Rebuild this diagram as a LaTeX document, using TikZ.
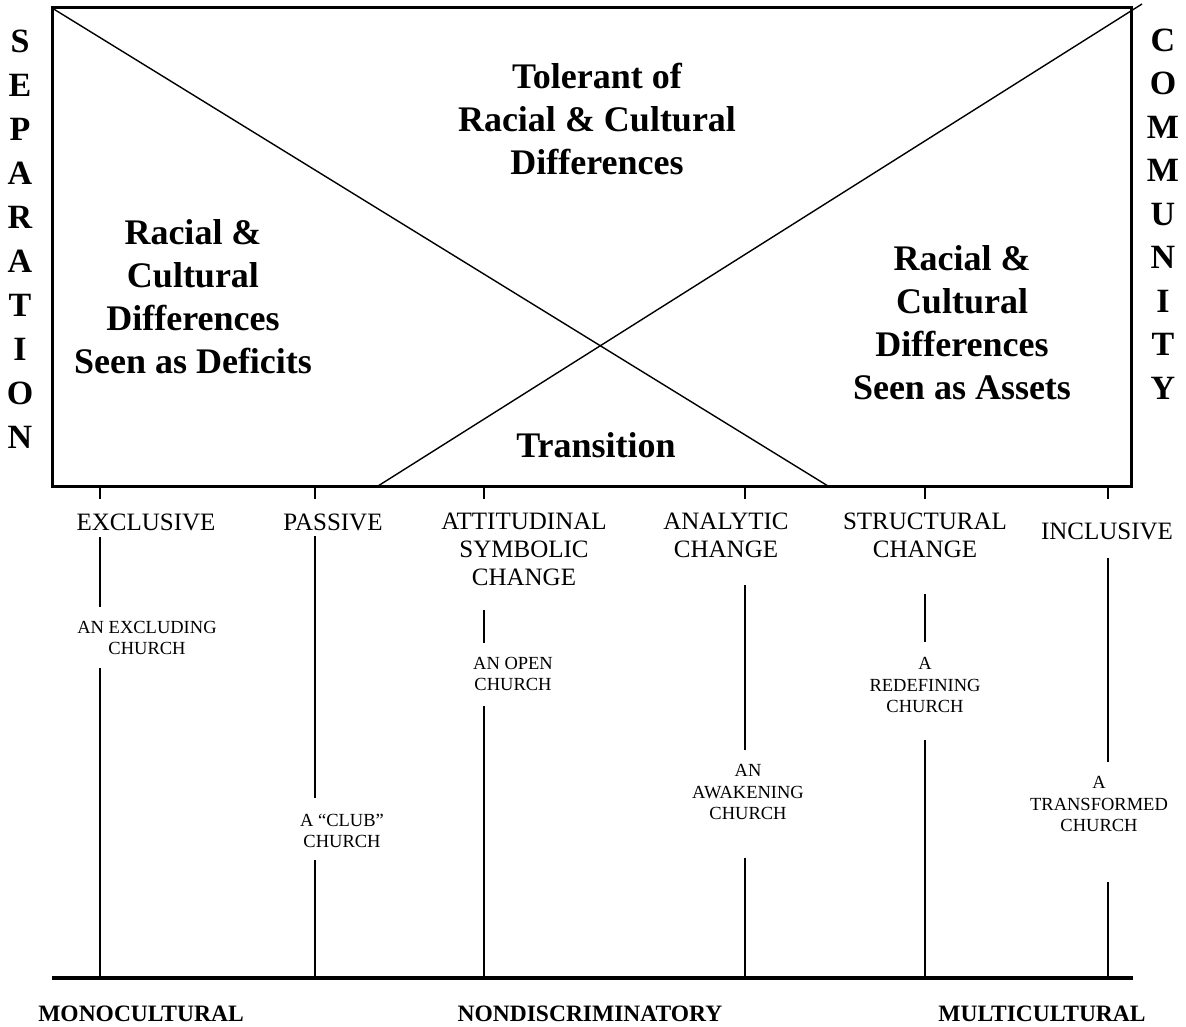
\documentclass[tikz,border=0pt]{standalone}
\usepackage{fontspec}
\setmainfont{Liberation Serif}
\begin{document}
\begin{tikzpicture}[x=1pt,y=-1pt,
  big/.style={font=\fontsize{36}{43}\selectfont\bfseries, align=center, inner sep=0pt},
  vlet/.style={font=\fontsize{34}{44}\selectfont\bfseries, align=center, inner sep=0pt},
  vletb/.style={font=\fontsize{34}{43.5}\selectfont\bfseries, align=center, inner sep=0pt},
  stage/.style={font=\fontsize{25}{28}\selectfont, align=center, inner sep=0pt},
  church/.style={font=\fontsize{18.5}{21.5}\selectfont, align=center, inner sep=0pt},
  pole/.style={font=\fontsize{23.5}{28}\selectfont\bfseries, inner sep=0pt},
  frame/.style={line width=3pt},
  diag/.style={line width=1.4pt},
  stem/.style={line width=1.8pt},
  axis/.style={line width=4.5pt}]
\useasboundingbox (0,0) rectangle (1186,1027);

% frame and diagonals
\coordinate (tl) at (52,8);
\coordinate (br) at (1131,486);
\draw[frame] (tl) rectangle (br);
\coordinate (d1e) at (828,486);
\coordinate (d2s) at (378,486);
\coordinate (d2e) at (1142,4);
\draw[diag] (tl) -- (d1e);
\draw[diag] (d2s) -- (d2e);

% region texts
\node[big] (tol) at (597,119) {Tolerant of\\Racial \& Cultural\\Differences};
\node[big] (def) at (193,297) {Racial \&\\Cultural\\Differences\\Seen as Deficits};
\node[big] (ass) at (962,323) {Racial \&\\Cultural\\Differences\\Seen as Assets};
\node[big] (tra) at (596,445) {Transition};

% side words
\node[vlet] (sep) at (20,239) {S\\E\\P\\A\\R\\A\\T\\I\\O\\N};
\node[vletb] (com) at (1163,214) {C\\O\\M\\M\\U\\N\\I\\T\\Y};

% axis
\coordinate (axl) at (52,978);
\coordinate (axr) at (1133,978);
\draw[axis] (axl) -- (axr);

% stage labels
\node[stage] (s1) at (146,522) {EXCLUSIVE};
\node[stage] (s2) at (333,522) {PASSIVE};
\node[stage] (s3) at (524,549) {ATTITUDINAL\\SYMBOLIC\\CHANGE};
\node[stage] (s4) at (726,535) {ANALYTIC\\CHANGE};
\node[stage] (s5) at (925,535) {STRUCTURAL\\CHANGE};
\node[stage] (s6) at (1107,531) {INCLUSIVE};

% church labels
\node[church] (c1) at (147,638) {AN EXCLUDING\\CHURCH};
\node[church] (c2) at (342,831) {A “CLUB”\\CHURCH};
\node[church] (c3) at (513,674) {AN OPEN\\CHURCH};
\node[church] (c4) at (748,792) {AN\\AWAKENING\\CHURCH};
\node[church] (c5) at (925,685) {A\\REDEFINING\\CHURCH};
\node[church] (c6) at (1099,804) {A\\TRANSFORMED\\CHURCH};

% ticks and stems
\foreach \n/\x/\a/\b/\c/\d in {1/100/537/607/668/978, 2/315/536/798/860/978, 3/484/610/643/706/978, 4/745/585/750/858/978, 5/925/594/642/740/978, 6/1108/558/762/882/978}{
  \coordinate (t\n a) at (\x,486);
  \coordinate (t\n b) at (\x,499);
  \coordinate (u\n a) at (\x,\a);
  \coordinate (u\n b) at (\x,\b);
  \coordinate (l\n a) at (\x,\c);
  \coordinate (l\n b) at (\x,\d);
  \draw[stem] (t\n a) -- (t\n b);
  \draw[stem] (u\n a) -- (u\n b);
  \draw[stem] (l\n a) -- (l\n b);
}

% pole labels
\node[pole] (p1) at (141,1014) {MONOCULTURAL};
\node[pole] (p2) at (590,1014) {NONDISCRIMINATORY};
\node[pole] (p3) at (1042,1014) {MULTICULTURAL};
\end{tikzpicture}
\end{document}
